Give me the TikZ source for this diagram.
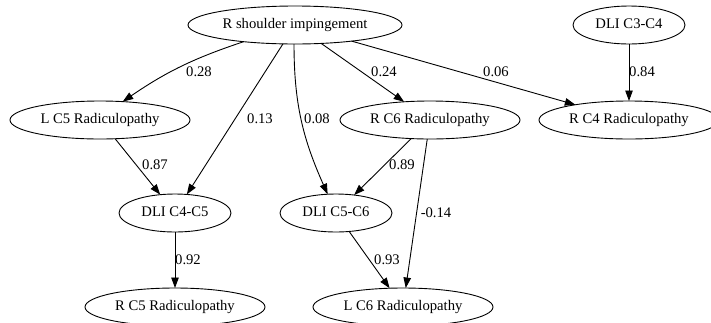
\documentclass[tikz,border=0pt]{standalone}
\usepackage{fontspec}
\setmainfont{Liberation Serif}
\usetikzlibrary{arrows.meta,shapes.geometric}
\newcommand{\nd}[1]{\makebox[0pt]{\rule[-2bp]{0pt}{10.7bp}\smash{#1}}}

\begin{document}
\begin{tikzpicture}[x=1bp,y=-1bp,>={Triangle[length=10.5bp,width=7.5bp]},
  every node/.style={font=\fontsize{14.7}{17}\selectfont},
  var/.style={draw,ellipse,inner sep=0pt,outer sep=0pt,minimum height=38bp,line width=0.9bp},
  rad/.style={var,minimum width=180bp},
  dli/.style={var,minimum width=112bp},
  ed/.style={->,line width=0.9bp},
  lbl/.style={inner sep=0pt}]
  \useasboundingbox (0,0) rectangle (711,322);
  % variables
  \node[var,minimum width=214bp] (rsi) at (295,25) {\nd{R shoulder impingement}};
  \node[dli] (c34) at (629,25) {\nd{DLI C3-C4}};
  \node[rad] (lc5) at (100,120) {\nd{L C5 Radiculopathy}};
  \node[rad] (rc6) at (430,120) {\nd{R C6 Radiculopathy}};
  \node[rad] (rc4) at (629,120) {\nd{R C4 Radiculopathy}};
  \node[dli] (c45) at (175,213) {\nd{DLI C4-C5}};
  \node[dli] (c56) at (336,213) {\nd{DLI C5-C6}};
  \node[rad] (rc5) at (175,307) {\nd{R C5 Radiculopathy}};
  \node[rad] (lc6) at (403,307) {\nd{L C6 Radiculopathy}};
  % edges
  \draw[ed] (rsi.198) to[bend right=8] (lc5.39);
  \draw[ed] (rsi) -- (c45);
  \draw[ed] (rsi.-93) to[out=-90,in=114] (c56.114);
  \draw[ed] (rsi) -- (rc6);
  \draw[ed] (rsi) -- (rc4);
  \draw[ed] (c34) -- (rc4);
  \draw[ed] (lc5) -- (c45);
  \draw[ed] (rc6) -- (c56);
  \draw[ed] (rc6) -- (lc6);
  \draw[ed] (c45) -- (rc5);
  \draw[ed] (c56) -- (lc6);
  % weights
  \node[lbl] (w1) at (199,72) {0.28};
  \node[lbl] (w2) at (260,119) {0.13};
  \node[lbl] (w3) at (317,119) {0.08};
  \node[lbl] (w4) at (384,72) {0.24};
  \node[lbl] (w5) at (496,72) {0.06};
  \node[lbl] (w6) at (642,72) {0.84};
  \node[lbl] (w7) at (155,165) {0.87};
  \node[lbl] (w8) at (402,165) {0.89};
  \node[lbl] (w9) at (436,213) {-0.14};
  \node[lbl] (w10) at (188,260) {0.92};
  \node[lbl] (w11) at (387,260) {0.93};
\end{tikzpicture}
\end{document}
